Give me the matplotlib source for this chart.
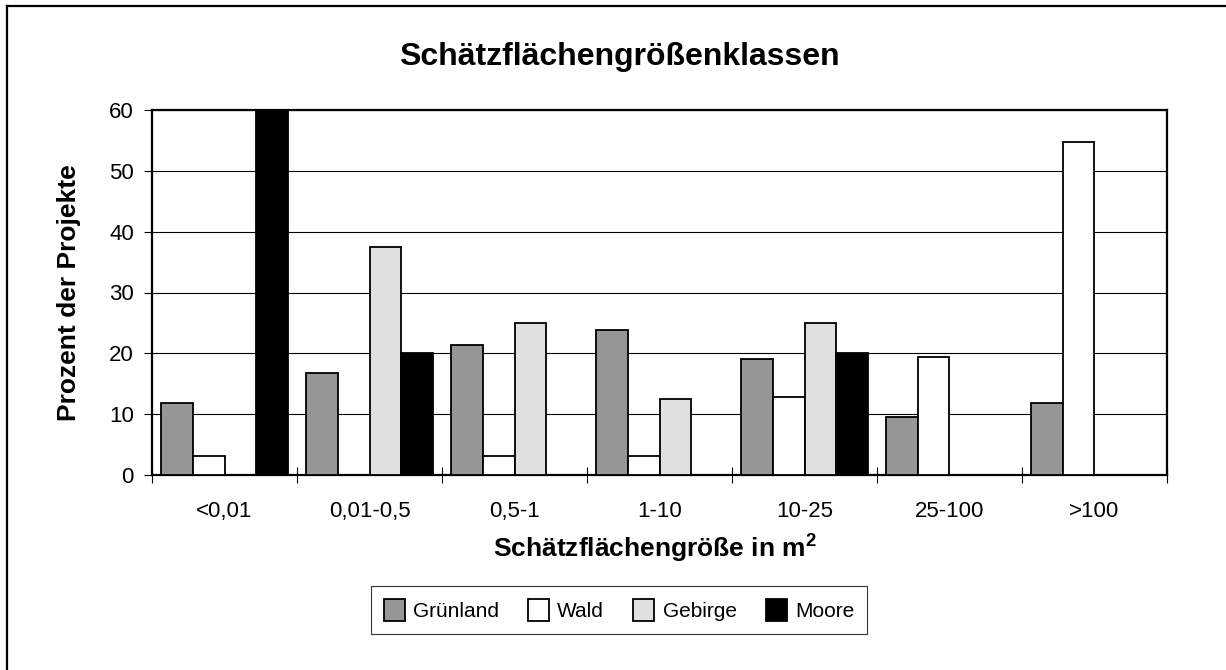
import numpy as np
import matplotlib
matplotlib.use('Agg')
import matplotlib.pyplot as plt
from matplotlib.lines import Line2D

plt.rcParams['font.family'] = ['Liberation Sans', 'DejaVu Sans']
plt.rcParams['mathtext.fontset'] = 'custom'
plt.rcParams['mathtext.rm'] = 'Liberation Sans'
plt.rcParams['mathtext.bf'] = 'Liberation Sans:bold'

klassen = ['<0,01', '0,01-0,5', '0,5-1', '1-10', '10-25', '25-100', '>100']
gruenland = [11.9, 16.7, 21.4, 23.8, 19.0, 9.5, 11.9]
wald = [3.2, 0.0, 3.2, 3.2, 12.9, 19.4, 54.8]
gebirge = [0.0, 37.5, 25.0, 12.5, 25.0, 0.0, 0.0]
moore = [60.0, 20.0, 0.0, 0.0, 20.0, 0.0, 0.0]

serien = [('Grünland', gruenland, '#969696'),
          ('Wald', wald, '#ffffff'),
          ('Gebirge', gebirge, '#e0e0e0'),
          ('Moore', moore, '#000000')]

W, H = 1226, 670
fig = plt.figure(figsize=(W / 100, H / 100), dpi=100)
ax = fig.add_axes([152 / W, 1 - 475 / H, (1167 - 152) / W, (475 - 110) / H])

x = np.arange(len(klassen))
breite = 0.22
for k, (name, werte, farbe) in enumerate(serien):
    ax.bar(x + (k - 1.5) * breite, werte, breite, color=farbe,
           edgecolor='black', linewidth=1.3, label=name, zorder=3)

ax.set_xlim(-0.5, len(klassen) - 0.5)
ax.set_ylim(0, 60)
ax.set_yticks(range(0, 61, 10))
ax.yaxis.grid(True, color='black', linewidth=0.8, zorder=0)
ax.tick_params(axis='y', direction='out', length=6, width=0.8,
               labelsize=16, pad=7)

# Gruppengrenzen als Striche, Beschriftung in der Mitte
ax.set_xticks(np.arange(-0.5, len(klassen), 1.0))
ax.set_xticklabels([])
ax.set_xticks(x, minor=True)
ax.set_xticklabels(klassen, minor=True)
ax.tick_params(axis='x', which='major', direction='inout', length=11, width=0.8)
ax.tick_params(axis='x', which='minor', length=0, labelsize=16, pad=19)

for s in ax.spines.values():
    s.set_linewidth(1.6)

fig.text(619 / W, 1 - 57 / H, 'Schätzflächengrößenklassen', ha='center',
         va='center', fontsize=23, fontweight='bold')
fig.text(69 / W, 1 - 293 / H, 'Prozent der Projekte', ha='center',
         va='center', rotation=90, fontsize=19, fontweight='bold')
fig.text(655 / W, 1 - 548 / H, 'Schätzflächengröße in m$^\\mathbf{2}$',
         ha='center', va='center', fontsize=19, fontweight='bold')

leg = fig.legend(loc='center', bbox_to_anchor=(619 / W, 1 - 610 / H), ncol=4,
                 fontsize=15, frameon=True, fancybox=False, borderpad=0.6,
                 handlelength=1.0, handleheight=1.3, handletextpad=0.4,
                 columnspacing=1.4)
leg.get_frame().set_edgecolor('black')
leg.get_frame().set_linewidth(0.8)
for p in leg.get_patches():
    p.set_linewidth(1.3)

# Rahmen des Diagrammbereichs (oben und links)
fig.add_artist(Line2D([7 / W, 7 / W], [0, 1 - 6 / H], color='black',
                      linewidth=1.6, transform=fig.transFigure))
fig.add_artist(Line2D([7 / W, 1], [1 - 6 / H, 1 - 6 / H], color='black',
                      linewidth=1.6, transform=fig.transFigure))

fig.savefig('out.png', dpi=100)
